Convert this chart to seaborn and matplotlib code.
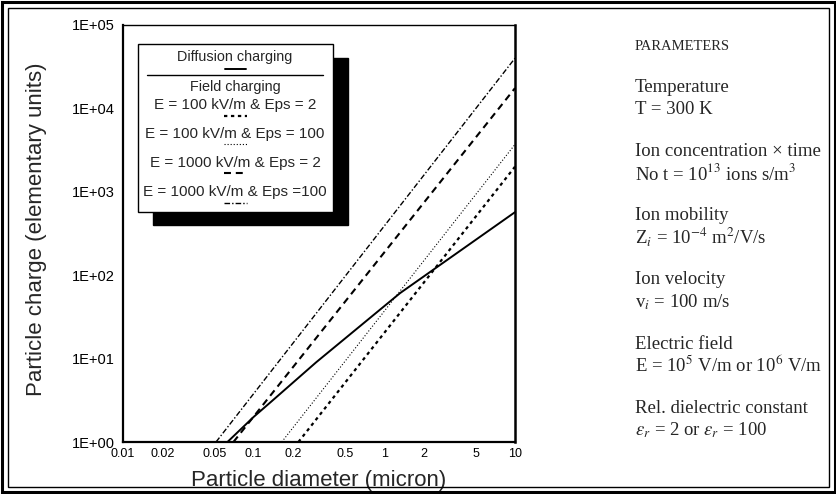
import numpy as np
import pandas as pd
import matplotlib
matplotlib.use("Agg")
import matplotlib.pyplot as plt
import seaborn as sns
from matplotlib.patches import Rectangle
from matplotlib.lines import Line2D
from matplotlib.ticker import FixedLocator, FixedFormatter, NullFormatter

# ---------------- data ----------------
diffusion_diam = [0.063, 0.1, 0.138, 0.3, 1.32, 10]
diffusion_charge = [1, 2.0, 3.1, 9.0, 61, 570]

e100_eps2_diam = [0.22, 10]
e100_eps2_charge = [1, 2000]

e100_eps100_diam = [0.164, 10]
e100_eps100_charge = [1, 3700]

e1000_eps2_diam = [0.07, 10]
e1000_eps2_charge = [1, 17500]

e1000_eps100_diam = [0.0515, 10]
e1000_eps100_charge = [1, 40000]

x_ticks = [0.01, 0.02, 0.05, 0.1, 0.2, 0.5, 1, 2, 5, 10]
x_tick_labels = ["0.01", "0.02", "0.05", "0.1", "0.2", "0.5", "1", "2", "5", "10"]
y_ticks = [1, 10, 100, 1000, 10000, 100000]
y_tick_labels = ["1E+00", "1E+01", "1E+02", "1E+03", "1E+04", "1E+05"]

legend_labels = ["E = 100 kV/m & Eps = 2", "E = 100 kV/m & Eps = 100",
                 "E = 1000 kV/m & Eps = 2", "E = 1000 kV/m & Eps =100"]

param_lines = [
    ("PARAMETERS", 47),
    ("Temperature", 88),
    ("T = 300 K", 110),
    ("Ion concentration \u00d7 time", 152),
    (r"No t = 10$^{\mathit{13}}$ ions s/m$^{3}$", 174),
    ("Ion mobility", 215),
    (r"Z$_{\mathit{i}}$ = 10$^{-4}$ m$^{2}$/V/s", 237),
    ("Ion velocity", 280),
    (r"v$_{\mathit{i}}$ = 100 m/s", 302),
    ("Electric field", 344),
    (r"E = 10$^{5}$ V/m or 10$^{6}$ V/m", 365),
    ("Rel. dielectric constant", 408),
    (r"$\epsilon_r$ = 2 or $\epsilon_r$ = 100", 430),
]

# ---------------- style ----------------
sns.set_style("white")
plt.rcParams["font.family"] = ["Liberation Sans", "DejaVu Sans"]
plt.rcParams["mathtext.fontset"] = "stix"
plt.rcParams["lines.scale_dashes"] = False

W, H = 837, 494
fig = plt.figure(figsize=(W / 100, H / 100), dpi=100)
fig.patch.set_facecolor("white")

def fx(px):
    return px / W

def fy(py):
    return 1 - py / H

ax = fig.add_axes([fx(123), fy(442), (515 - 123) / W, (442 - 25) / H])
ax.set_xscale("log")
ax.set_yscale("log")

series = [
    (diffusion_diam, diffusion_charge, dict(lw=1.4, linestyle="-")),
    (e100_eps2_diam, e100_eps2_charge, dict(lw=1.6, linestyle=(0, (2.4, 2.6)))),
    (e100_eps100_diam, e100_eps100_charge, dict(lw=0.8, linestyle=(0, (0.8, 1.4)))),
    (e1000_eps2_diam, e1000_eps2_charge, dict(lw=1.5, linestyle=(0, (5, 3.5)))),
    (e1000_eps100_diam, e1000_eps100_charge, dict(lw=1.0, linestyle=(0, (4, 1.5, 1, 1.5)))),
]
for xs, ys, kw in series:
    df = pd.DataFrame({"diameter": xs, "charge": ys})
    sns.lineplot(data=df, x="diameter", y="charge", ax=ax, color="black",
                 estimator=None, sort=False, legend=False, **kw)

ax.set_xlim(0.01, 10)
ax.set_ylim(1, 1e5)

ax.xaxis.set_major_locator(FixedLocator(x_ticks))
ax.xaxis.set_major_formatter(FixedFormatter(x_tick_labels))
x_minor = [m * 10.0 ** e for e in (-2, -1, 0) for m in (3, 4, 6, 7, 8, 9)]
ax.xaxis.set_minor_locator(FixedLocator(x_minor))
ax.xaxis.set_minor_formatter(NullFormatter())

ax.yaxis.set_major_locator(FixedLocator(y_ticks))
ax.yaxis.set_major_formatter(FixedFormatter(y_tick_labels))
y_minor = [m * 10.0 ** e for e in range(0, 5) for m in range(2, 10)]
ax.yaxis.set_minor_locator(FixedLocator(y_minor))
ax.yaxis.set_minor_formatter(NullFormatter())

ax.tick_params(which="major", direction="in", length=10, width=1.0, colors="black",
               labelsize=10.5, pad=6)
ax.tick_params(which="minor", direction="in", length=5, width=0.8, colors="black")
ax.tick_params(axis="x", which="major", labelsize=9, pad=4)
for side in ["left", "bottom", "right", "top"]:
    ax.spines[side].set_color("black")
ax.spines["left"].set_linewidth(1.6)
ax.spines["bottom"].set_linewidth(1.6)
ax.spines["right"].set_linewidth(1.8)
ax.spines["top"].set_linewidth(1.0)

ax.set_xlabel("")
ax.set_ylabel("")
fig.text(fx(319), fy(480), "Particle diameter (micron)", ha="center", va="center",
         fontsize=16)
fig.text(fx(37), fy(229), "Particle charge (elementary units)", ha="center",
         va="center", rotation=90, fontsize=16)

# ---------------- legend box (shadow + white box) ----------------
fig.patches.append(Rectangle((fx(153), fy(225)), (348 - 153) / W, (225 - 58) / H,
                             transform=fig.transFigure, facecolor="black",
                             edgecolor="black", zorder=5))
fig.patches.append(Rectangle((fx(138), fy(212)), (333 - 138) / W, (212 - 44) / H,
                             transform=fig.transFigure, facecolor="white",
                             edgecolor="black", lw=1.0, zorder=6))
fig.text(fx(235), fy(57), "Diffusion charging", ha="center", va="center",
         fontsize=10.4, zorder=7)
fig.lines.append(Line2D([fx(225), fx(246)], [fy(69), fy(69)], transform=fig.transFigure,
                        color="black", lw=1.4, zorder=7))
fig.lines.append(Line2D([fx(147), fx(323)], [fy(75), fy(75)], transform=fig.transFigure,
                        color="black", lw=1.0, zorder=7))
fig.text(fx(235), fy(87), "Field charging", ha="center", va="center",
         fontsize=10.4, zorder=7)
label_y = [105, 134, 163, 192]
sample_y = [116, 144, 173, 203]
for (xs, ys, kw), lab, ly, sy in zip(series[1:], legend_labels, label_y, sample_y):
    fig.text(fx(235), fy(ly), lab, ha="center", va="center", fontsize=11, zorder=7)
    fig.lines.append(Line2D([fx(224), fx(247)], [fy(sy), fy(sy)],
                            transform=fig.transFigure, color="black", zorder=7, **kw))

# ---------------- parameters text ----------------
for i, (txt, py) in enumerate(param_lines):
    fig.text(fx(635), fy(py), txt, ha="left", va="center",
             fontsize=10.5 if i == 0 else 13.5,
             family=["Liberation Serif", "DejaVu Serif"])

# ---------------- outer double frame ----------------
fig.patches.append(Rectangle((fx(2), fy(492)), (835 - 2) / W, (492 - 2) / H,
                             transform=fig.transFigure, fill=False,
                             edgecolor="black", lw=2.2, zorder=10))
fig.patches.append(Rectangle((fx(8), fy(487)), (829 - 8) / W, (487 - 8) / H,
                             transform=fig.transFigure, fill=False,
                             edgecolor="black", lw=1.0, zorder=10))

fig.savefig("out.png", dpi=100)
